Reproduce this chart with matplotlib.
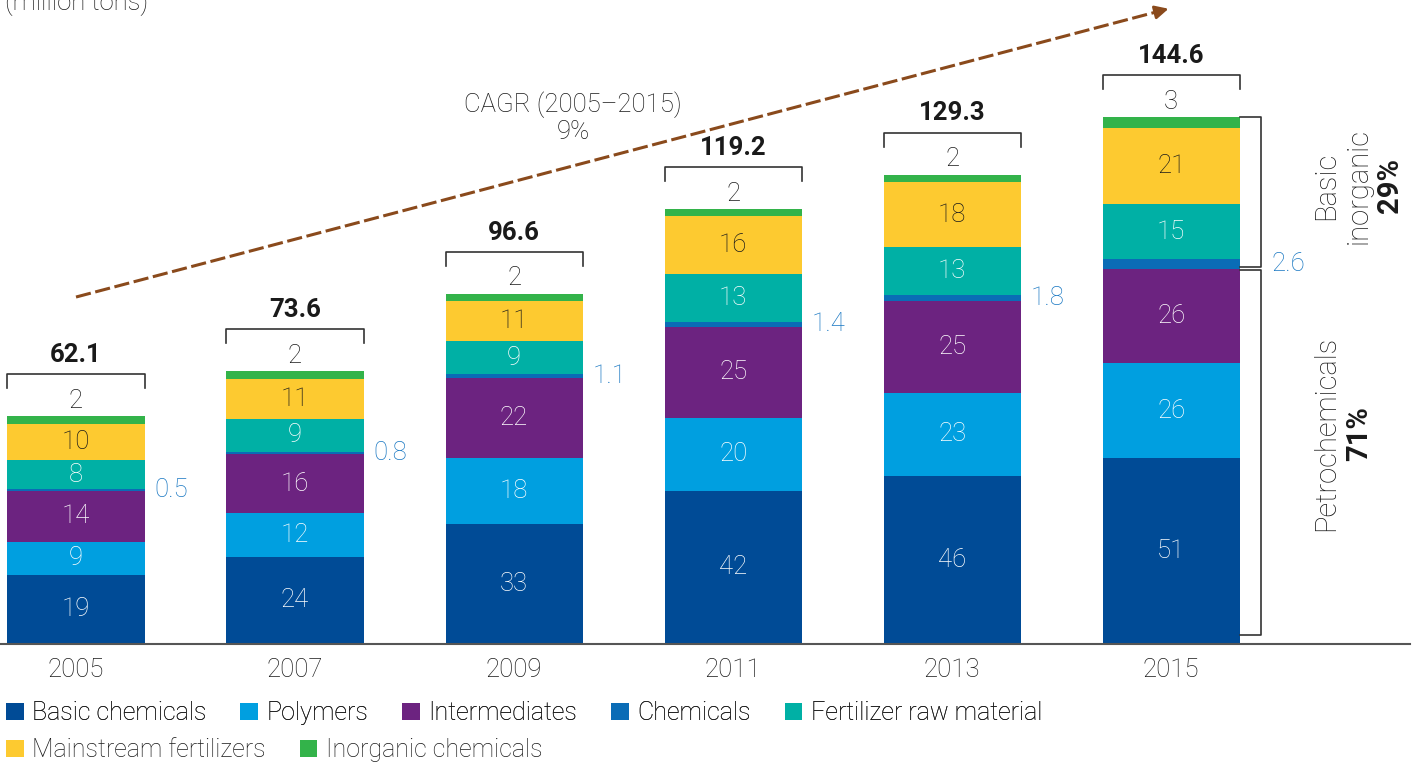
import matplotlib
matplotlib.use('Agg')
import matplotlib.pyplot as plt
from matplotlib.patches import Patch
import numpy as np

plt.rcParams['font.family'] = ['Roboto', 'Liberation Sans', 'DejaVu Sans']
plt.rcParams['font.weight'] = 'light'

# --- данные ---
years = ['2005', '2007', '2009', '2011', '2013', '2015']
basic_chem = [19, 24, 33, 42, 46, 51]
polymers = [9, 12, 18, 20, 23, 26]
intermediates = [14, 16, 22, 25, 25, 26]
chemicals = [0.5, 0.8, 1.1, 1.4, 1.8, 2.6]
fert_raw = [8, 9, 9, 13, 13, 15]
mainstream_fert = [10, 11, 11, 16, 18, 21]
inorganic_chem = [2, 2, 2, 2, 2, 3]
totals = [62.1, 73.6, 96.6, 119.2, 129.3, 144.6]

series_names = ['Basic chemicals', 'Polymers', 'Intermediates', 'Chemicals',
                'Fertilizer raw material', 'Mainstream fertilizers', 'Inorganic chemicals']
series = [basic_chem, polymers, intermediates, chemicals, fert_raw, mainstream_fert, inorganic_chem]
colors = ['#004b96', '#009fe0', '#6c2380', '#0a6cb6', '#00b0a5', '#fdca30', '#33b34a']
label_colors = ['white', 'white', 'white', None, 'white', '#1a1a1a', None]

share_labels = ['Basic', 'inorganic', '29%']
petro_labels = ['Petrochemicals', '71%']
cagr_text = 'CAGR (2005–2015)\n9%'

TXT = '#1a1a1a'
FS = 18.5   # цифры
FS_LEG = 18

fig = plt.figure(figsize=(14.24, 7.64), dpi=100)
ax = fig.add_axes([0.0, 120 / 764, 1410 / 1424, 644 / 764])

x = np.arange(len(years))
w = 0.626
bottom = np.zeros(len(years))
for vals, col, lc in zip(series, colors, label_colors):
    vals = np.array(vals, dtype=float)
    ax.bar(x, vals, w, bottom=bottom, color=col, linewidth=0)
    if lc is not None:
        for xi, b, v in zip(x, bottom, vals):
            ax.text(xi, b + v / 2, f'{v:g}', ha='center', va='center',
                    color=lc, fontsize=FS)
    bottom += vals

tops = bottom.copy()
chem_mid = np.array(basic_chem) + np.array(polymers) + np.array(intermediates) \
    + np.array(chemicals) / 2
petro_top = np.array(basic_chem) + np.array(polymers) + np.array(intermediates)

# подписи Chemicals справа от столбца
for i, (xi, v) in enumerate(zip(x, chemicals)):
    off = 0.045 if i < len(x) - 1 else 0.145
    ax.text(xi + w / 2 + off, chem_mid[i], f'{v:g}', ha='left', va='center',
            color='#1877c2', fontsize=FS)

# скобки сверху, неорганика и итог
for xi, t, v, tot in zip(x, tops, inorganic_chem, totals):
    yb = t + 11.5
    ax.plot([xi - w / 2, xi - w / 2, xi + w / 2, xi + w / 2],
            [yb - 3.8, yb, yb, yb - 3.8], color='#333333', lw=1.2)
    ax.text(xi, t + 4.2, f'{v:g}', ha='center', va='center', color=TXT, fontsize=FS)
    ax.text(xi, t + 16.8, f'{tot:.1f}', ha='center', va='center', color=TXT,
            fontsize=FS, fontweight='bold')

# правая скобка у 2015
last = len(x) - 1
bx = x[last] + 0.41
ex = x[last] + w / 2
ax.plot([ex, bx, bx, ex], [tops[last], tops[last], petro_top[last] + 0.4,
                           petro_top[last] + 0.4], color='#333333', lw=1.2)
ax.plot([ex, bx, bx, ex], [petro_top[last] - 0.4, petro_top[last] - 0.4, 2.5, 2.5],
        color='#333333', lw=1.2)

y_inorg = (tops[last] + petro_top[last]) / 2 + 2
for dx, s in zip([0.708, 0.854, 1.0], share_labels):
    ax.text(x[last] + dx, y_inorg, s, rotation=90, ha='center', va='center',
            color=TXT, fontsize=21, fontweight='bold' if '%' in s else 'light')
y_petro = (petro_top[last] + 2.5) / 2 + 5
for dx, s in zip([0.708, 0.86], petro_labels):
    ax.text(x[last] + dx, y_petro, s, rotation=90, ha='center', va='center',
            color=TXT, fontsize=21, fontweight='bold' if '%' in s else 'light')

# стрелка CAGR
arrow_col = '#8a4a1c'
p0 = np.array([0.0, 95.2])
p1 = np.array([5.0, 174.5])
slope = (p1[1] - p0[1]) / (p1[0] - p0[0])
ax.plot([p0[0], p1[0] - 0.06], [p0[1], p1[1] - 0.06 * slope],
        color=arrow_col, lw=2.2, linestyle=(0, (5, 1.5)), solid_capstyle='butt')
ax.annotate('', xy=tuple(p1), xytext=(p1[0] - 0.08, p1[1] - 0.08 * slope),
            arrowprops=dict(arrowstyle='-|>', color=arrow_col, lw=2, mutation_scale=20))
ax.text(2.27, 144.5, cagr_text, ha='center', va='center', color=TXT,
        fontsize=FS, linespacing=1.1)

# оси
ax.set_xlim(-0.347, 6.09)
ax.set_ylim(0, 176.7)
ax.set_xticks(x)
ax.set_xticklabels(years, fontsize=FS, color=TXT)
ax.tick_params(axis='x', length=0, pad=10)
ax.set_yticks([])
for sp in ['top', 'right', 'left']:
    ax.spines[sp].set_visible(False)
ax.spines['bottom'].set_color('#555555')
ax.spines['bottom'].set_linewidth(1.5)

fig.text(5 / 1424, 1 - 10 / 764, '(million tons)', ha='left', va='baseline',
         color=TXT, fontsize=FS)

# легенда в две строки
handles = [Patch(facecolor=c, edgecolor='none') for c in colors]
leg_kw = dict(frameon=False, fontsize=FS_LEG, handlelength=0.7, handleheight=0.7,
              handletextpad=0.35, columnspacing=1.35, borderpad=0, borderaxespad=0,
              labelcolor=TXT)
leg1 = fig.legend(handles[:5], series_names[:5], ncol=5, loc='center left',
                  bbox_to_anchor=(6 / 1424, 1 - 713 / 764), **leg_kw)
fig.add_artist(leg1)
fig.legend(handles[5:], series_names[5:], ncol=2, loc='center left',
           bbox_to_anchor=(6 / 1424, 1 - 750 / 764), **leg_kw)

fig.savefig('out.png', dpi=100)
